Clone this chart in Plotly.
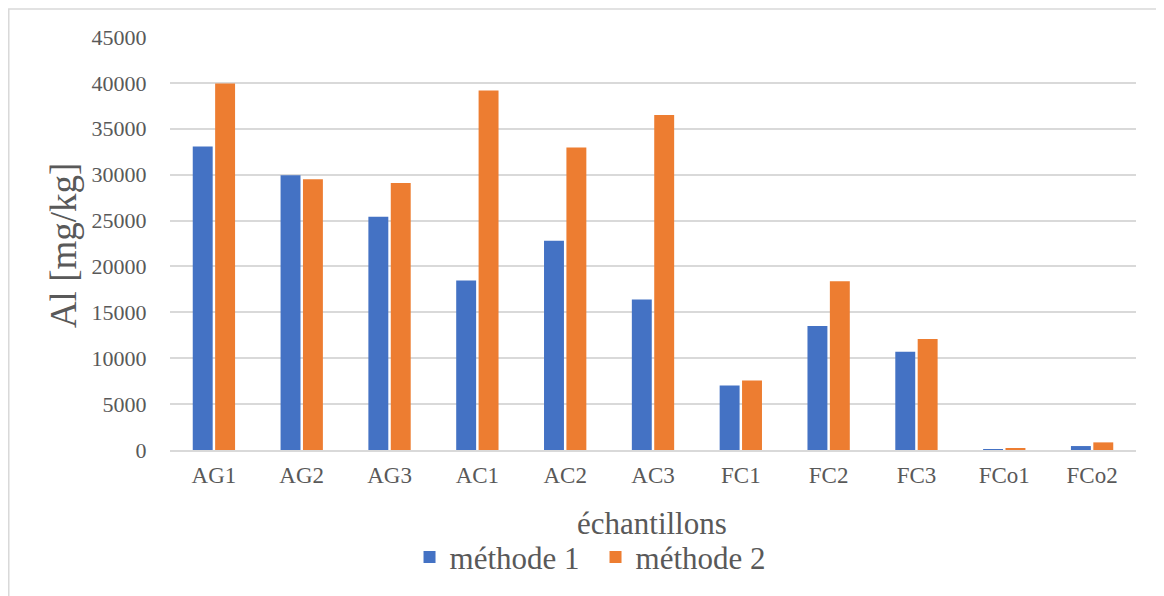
import plotly.graph_objects as go

categories = ["AG1", "AG2", "AG3", "AC1", "AC2", "AC3", "FC1", "FC2", "FC3", "FCo1", "FCo2"]
methode1 = [33070, 29930, 25420, 18470, 22790, 16410, 7030, 13520, 10700, 100, 430]
methode2 = [39920, 29500, 29100, 39160, 32960, 36490, 7570, 18390, 12100, 220, 830]
yticks = [0, 5000, 10000, 15000, 20000, 25000, 30000, 35000, 40000, 45000]

FONT = "Liberation Serif"
GRAY = "#595959"
GRID = "#d9d9d9"

fig = go.Figure()
fig.add_trace(go.Bar(x=categories, y=methode1, name="méthode 1", marker_color="#4472C4",
                     marker_line_width=0))
fig.add_trace(go.Bar(x=categories, y=methode2, name="méthode 2", marker_color="#ED7D31",
                     marker_line_width=0))

fig.update_layout(
    width=1156, height=588,
    margin=dict(l=162, r=28, t=29, b=143),
    paper_bgcolor="white", plot_bgcolor="white",
    barmode="group", bargap=0.49, bargroupgap=0.11,
    font=dict(family=FONT, color=GRAY, size=22),
    showlegend=True,
    legend=dict(orientation="h", x=0.4405, xanchor="center", y=-0.26, yanchor="middle",
                font=dict(size=31, color=GRAY, family=FONT), itemwidth=30,
                entrywidth=141, traceorder="normal"),
    xaxis=dict(showgrid=False, showline=True, linecolor=GRID, linewidth=1.5,
               tickfont=dict(size=23, color=GRAY, family=FONT), ticks="outside",
               tickcolor="rgba(0,0,0,0)", ticklen=4),
    yaxis=dict(range=[0, 45000], tickvals=yticks, showgrid=True, gridcolor=GRID, gridwidth=1.5,
               zeroline=False, showline=False, tickformat="d",
               tickfont=dict(size=22, color=GRAY, family=FONT), ticks="outside",
               tickcolor="rgba(0,0,0,0)", ticklen=18),
    annotations=[
        dict(text="Al [mg/kg]", xref="paper", yref="paper", x=-0.1108, y=0.496,
             textangle=-90, showarrow=False, font=dict(size=37, color=GRAY, family=FONT),
             xanchor="center", yanchor="middle"),
        dict(text="échantillons", xref="paper", yref="paper", x=0.499, y=-0.178,
             showarrow=False, font=dict(size=31, color=GRAY, family=FONT),
             xanchor="center", yanchor="middle"),
    ],
    shapes=[
        dict(type="rect", xref="paper", yref="paper", x0=-0.1669, x1=1.2, y0=-0.6, y1=1.0679,
             line=dict(color=GRID, width=1.5), fillcolor="rgba(0,0,0,0)", layer="below"),
    ],
)

fig.write_html("out.html")
